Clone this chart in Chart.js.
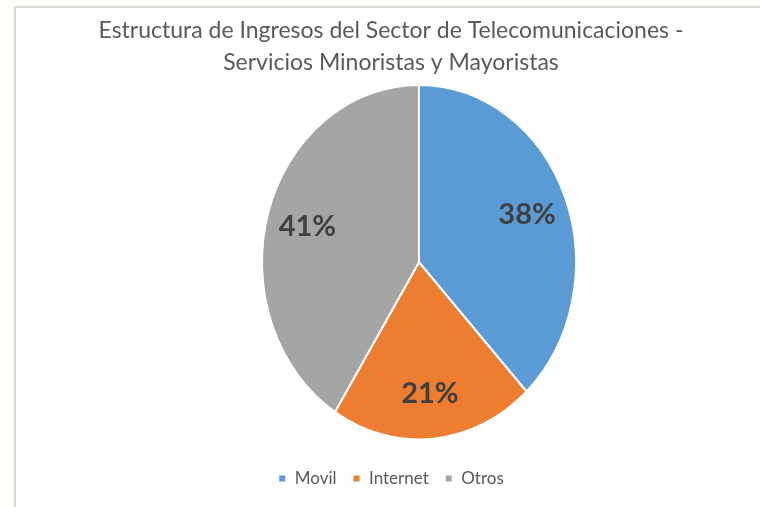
<!DOCTYPE html>
<html>
<head>
<meta charset="utf-8">
<script src="https://cdn.jsdelivr.net/npm/chart.js@4/dist/chart.umd.min.js"></script>
<style>
  html, body { margin: 0; padding: 0; background: #fefdf8; width: 760px; height: 507px; overflow: hidden; }
  #frame { position: absolute; left: 14px; top: 6px; width: 800px; height: 560px; border: 2px solid #d9d9d9; background: #ffffff; }
  #wrap { position: absolute; left: 0; top: 0; width: 760px; height: 507px; }
</style>
</head>
<body>
<div id="frame"></div>
<div id="wrap"><canvas id="c" width="760" height="507"></canvas></div>
<script>
const titleLines = ["Estructura de Ingresos del Sector de Telecomunicaciones -", "Servicios Minoristas y Mayoristas"];
const categories = ["Movil", "Internet", "Otros"];
const shares = [38, 21, 41];
const colors = ["#5B9BD5", "#ED7D31", "#A5A5A5"];

const SHIFT_X = 28;      // pie sits right of the title centre
const STRETCH_Y = 1.13;  // pie is drawn slightly taller than wide
const LABEL_POS = 0.74;
const LABEL_SIZE = 29;

const ellipsePlugin = {
  id: 'ellipse',
  beforeDatasetsDraw(chart) {
    const arc = chart.getDatasetMeta(0).data[0];
    const ctx = chart.ctx;
    ctx.save();
    ctx.translate(arc.x + SHIFT_X, arc.y);
    ctx.scale(1, STRETCH_Y);
    ctx.translate(-arc.x, -arc.y);
  },
  afterDatasetsDraw(chart) {
    const ctx = chart.ctx;
    ctx.restore();
    const meta = chart.getDatasetMeta(0);
    const data = chart.data.datasets[0].data;
    const total = data.reduce((a, b) => a + b, 0);
    ctx.save();
    ctx.font = "bold " + LABEL_SIZE + "px Lato";
    ctx.fillStyle = "#404040";
    ctx.textAlign = "center";
    ctx.textBaseline = "alphabetic";
    meta.data.forEach((arc, i) => {
      const mid = (arc.startAngle + arc.endAngle) / 2;
      const r = arc.outerRadius * LABEL_POS;
      const px = arc.x + SHIFT_X + Math.cos(mid) * r;
      const py = arc.y + Math.sin(mid) * r * STRETCH_Y;
      ctx.fillText(Math.round(data[i] / total * 100) + "%", px, py + LABEL_SIZE * 0.36);
    });
    ctx.restore();
  }
};

new Chart(document.getElementById('c'), {
  type: 'pie',
  data: {
    labels: categories,
    datasets: [{
      data: shares,
      backgroundColor: colors,
      borderColor: '#ffffff',
      borderWidth: 2,
      radius: 157
    }]
  },
  options: {
    responsive: false,
    animation: false,
    layout: { padding: { left: 22, right: 0, top: 0, bottom: 10 } },
    plugins: {
      title: {
        display: true,
        text: titleLines,
        color: '#595959',
        font: { family: 'Lato', size: 23, weight: 'normal', lineHeight: 1.4 },
        padding: { top: 14, bottom: -8 }
      },
      legend: {
        position: 'bottom',
        labels: {
          color: '#595959',
          font: { family: 'Lato', size: 17 },
          boxWidth: 8,
          boxHeight: 8,
          padding: 16
        }
      },
      tooltip: { enabled: false }
    }
  },
  plugins: [ellipsePlugin]
});
</script>
</body>
</html>
